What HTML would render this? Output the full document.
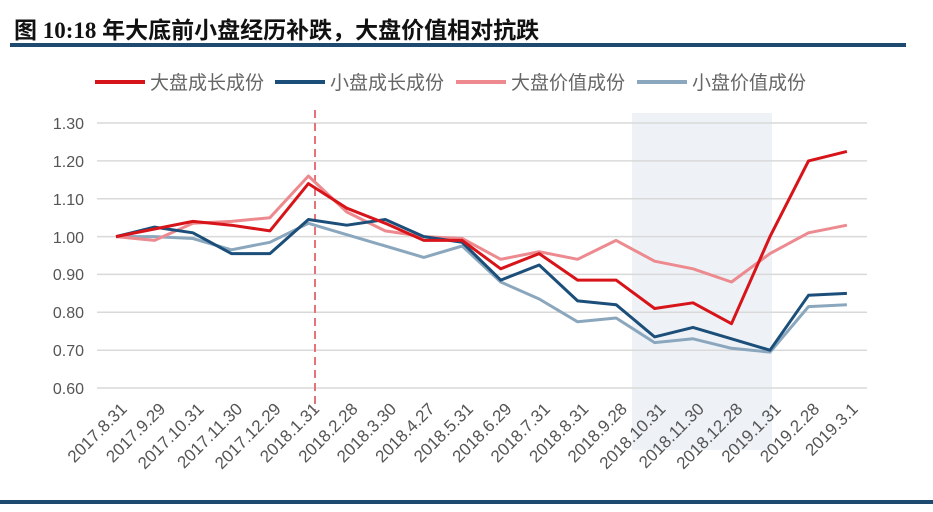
<!DOCTYPE html>
<html><head><meta charset="utf-8"><style>
body{margin:0;background:#fff;width:933px;height:507px;overflow:hidden}
</style></head><body>
<svg width="933" height="507" xmlns="http://www.w3.org/2000/svg" font-family="Liberation Sans, Noto Sans CJK SC, sans-serif">
<text x="14" y="38" font-size="23" font-weight="bold" fill="#111" font-family="Liberation Serif, Noto Sans CJK SC, sans-serif">图 10:18 年大底前小盘经历补跌，大盘价值相对抗跌</text>
<rect x="10" y="43" width="896" height="4" fill="#1d4a6e"/>
<rect x="0" y="500" width="933" height="4" fill="#1d4a6e"/>
<g font-size="19" fill="#666" font-family="Liberation Sans, Noto Sans CJK SC, sans-serif">
<rect x="95" y="80" width="50" height="4" fill="#d7141a"/><text x="150" y="89">大盘成长成份</text>
<rect x="275" y="80" width="50" height="4" fill="#1b4f7a"/><text x="330" y="89">小盘成长成份</text>
<rect x="456" y="80" width="50" height="4" fill="#ec8a8f"/><text x="511" y="89">大盘价值成份</text>
<rect x="637" y="80" width="50" height="4" fill="#8ba7bd"/><text x="692" y="89">小盘价值成份</text>
</g>
<rect x="632" y="113" width="140" height="337" fill="#eef2f6"/>
<g stroke="#d9d9d9" stroke-width="1.5">
<line x1="97" x2="867" y1="123" y2="123"/><line x1="97" x2="867" y1="160.9" y2="160.9"/>
<line x1="97" x2="867" y1="198.7" y2="198.7"/><line x1="97" x2="867" y1="236.6" y2="236.6"/>
<line x1="97" x2="867" y1="274.4" y2="274.4"/><line x1="97" x2="867" y1="312.3" y2="312.3"/>
<line x1="97" x2="867" y1="350.2" y2="350.2"/><line x1="97" x2="867" y1="388" y2="388"/>
</g>
<g font-size="16" fill="#555" text-anchor="end">
<text x="84" y="129">1.30</text><text x="84" y="167">1.20</text><text x="84" y="205">1.10</text>
<text x="84" y="243">1.00</text><text x="84" y="280">0.90</text><text x="84" y="318">0.80</text>
<text x="84" y="356">0.70</text><text x="84" y="394">0.60</text>
</g>
<line x1="315" x2="315" y1="110" y2="410" stroke="#e57379" stroke-width="2" stroke-dasharray="8,5"/>
<g fill="none" stroke-width="3" stroke-linejoin="round" id="lines"></g>
<g id="labels" font-size="17" fill="#555" text-anchor="end"></g>
<script>
var d={
"#8ba7bd":[1.00,1.00,0.995,0.965,0.985,1.035,1.005,0.975,0.945,0.975,0.88,0.835,0.775,0.785,0.72,0.73,0.705,0.695,0.815,0.82],
"#ec8a8f":[1.00,0.99,1.035,1.04,1.05,1.16,1.065,1.015,1.00,0.995,0.94,0.96,0.94,0.99,0.935,0.915,0.88,0.955,1.01,1.03],
"#1b4f7a":[1.00,1.025,1.01,0.955,0.955,1.045,1.03,1.045,1.00,0.985,0.885,0.925,0.83,0.82,0.735,0.76,0.73,0.70,0.845,0.85],
"#d7141a":[1.00,1.02,1.04,1.03,1.015,1.14,1.075,1.035,0.99,0.99,0.915,0.955,0.885,0.885,0.81,0.825,0.77,1.00,1.20,1.225]};
var NS="http://www.w3.org/2000/svg",g=document.getElementById("lines");
function X(i){return 116+i*38.47}function Y(v){return 123+(1.30-v)*378.6}
for(var c in d){var p=document.createElementNS(NS,"polyline");p.setAttribute("stroke",c);
p.setAttribute("points",d[c].map(function(v,i){return X(i).toFixed(1)+","+Y(v).toFixed(1)}).join(" "));g.appendChild(p);}
var L=["2017.8.31","2017.9.29","2017.10.31","2017.11.30","2017.12.29","2018.1.31","2018.2.28","2018.3.30","2018.4.27","2018.5.31","2018.6.29","2018.7.31","2018.8.31","2018.9.28","2018.10.31","2018.11.30","2018.12.28","2019.1.31","2019.2.28","2019.3.1"];
var lg=document.getElementById("labels");
L.forEach(function(s,i){var t=document.createElementNS(NS,"text");var x=X(i)+12,y=410;
t.setAttribute("x",x);t.setAttribute("y",y);t.setAttribute("transform","rotate(-45 "+x+" "+y+")");t.textContent=s;lg.appendChild(t);});
</script>
</svg>
</body></html>
